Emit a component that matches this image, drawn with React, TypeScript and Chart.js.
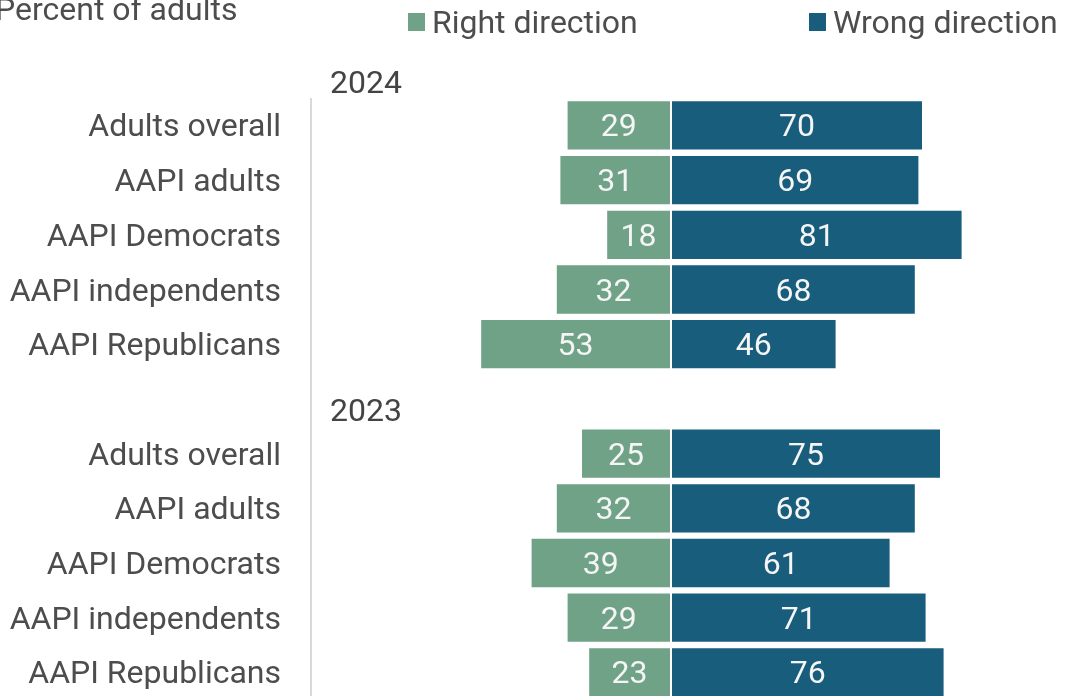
import React, { useEffect, useRef } from "react";
import { Chart, registerables } from "chart.js";

Chart.register(...registerables);

const groups = ["2024", "2023"];
const subgroups = ["Adults overall", "AAPI adults", "AAPI Democrats", "AAPI independents", "AAPI Republicans"];
const right2024 = [29, 31, 18, 32, 53];
const wrong2024 = [70, 69, 81, 68, 46];
const right2023 = [25, 32, 39, 29, 23];
const wrong2023 = [75, 68, 61, 71, 76];
const seriesNames = ["Right direction", "Wrong direction"];
const colors = ["#6fa287", "#185d7b"];
const titleText = "Percent of adults";

const FONT = "Roboto";
const TEXT = "#4d4d4d";
const SIZE = 32;

// rows: heading row, then the subgroups, for each year
const labels: string[] = [];
const rightData: (number | null)[] = [];
const wrongData: (number | null)[] = [];
const headingRows: number[] = [];
const yearData = [
  [right2024, wrong2024],
  [right2023, wrong2023],
];
groups.forEach((g, gi) => {
  headingRows.push(labels.length);
  labels.push("");
  rightData.push(null);
  wrongData.push(null);
  subgroups.forEach((s, si) => {
    labels.push(s);
    rightData.push(-yearData[gi][0][si]);
    wrongData.push(yearData[gi][1][si]);
  });
});

const decorPlugin = {
  id: "decor",
  beforeDatasetsDraw(chart: any) {
    const { ctx, chartArea, scales } = chart;
    const y = scales.y;
    const top = y.getPixelForValue(1) - (y.getPixelForValue(1) - y.getPixelForValue(0)) / 2;
    ctx.save();
    ctx.strokeStyle = "#d9d9d9";
    ctx.lineWidth = 2;
    ctx.beginPath();
    ctx.moveTo(chartArea.left, top);
    ctx.lineTo(chartArea.left, chartArea.bottom + 20);
    ctx.stroke();
    ctx.restore();
  },
  afterDatasetsDraw(chart: any) {
    const { ctx, chartArea, scales } = chart;
    const y = scales.y;
    ctx.save();
    // value labels
    ctx.font = `${SIZE}px ${FONT}`;
    ctx.fillStyle = "#f5f5f5";
    ctx.textAlign = "center";
    ctx.textBaseline = "middle";
    chart.data.datasets.forEach((ds: any, di: number) => {
      const meta = chart.getDatasetMeta(di);
      meta.data.forEach((el: any, i: number) => {
        const v = ds.data[i];
        if (v == null) return;
        const p = el.getProps(["x", "y", "base"], true);
        ctx.fillText(String(Math.abs(v)), (p.x + p.base) / 2, p.y + 3);
      });
    });
    // year headings
    ctx.fillStyle = "#444444";
    ctx.textAlign = "left";
    headingRows.forEach((r, gi) => {
      ctx.fillText(groups[gi], chartArea.left + 19, y.getPixelForValue(r) + 14);
    });
    // title
    ctx.fillStyle = TEXT;
    ctx.fillText(titleText, -5, 12);
    // legend
    const items = [
      { x: 408, label: seriesNames[0], color: colors[0] },
      { x: 809, label: seriesNames[1], color: colors[1] },
    ];
    items.forEach((it) => {
      ctx.fillStyle = it.color;
      ctx.fillRect(it.x, 13, 17, 18);
      ctx.fillStyle = TEXT;
      ctx.fillText(it.label, it.x + 24, 25);
    });
    ctx.restore();
  },
};

export default function App() {
  const ref = useRef<HTMLCanvasElement>(null);
  useEffect(() => {
    if (!ref.current) return;
    const chart = new Chart(ref.current, {
      type: "bar",
      data: {
        labels,
        datasets: [
          {
            label: seriesNames[0],
            data: rightData,
            backgroundColor: colors[0],
            borderColor: "rgba(255,255,255,0.6)",
            borderWidth: 1,
            borderSkipped: false,
            barPercentage: 0.92,
            categoryPercentage: 1,
          },
          {
            label: seriesNames[1],
            data: wrongData,
            backgroundColor: colors[1],
            borderColor: "rgba(255,255,255,0.6)",
            borderWidth: 1,
            borderSkipped: false,
            barPercentage: 0.92,
            categoryPercentage: 1,
          },
        ] as any,
      },
      options: {
        indexAxis: "y",
        responsive: false,
        animation: false,
        devicePixelRatio: 1,
        layout: { padding: { top: 43.35, bottom: 0.25, left: 0, right: 34 } },
        plugins: {
          legend: { display: false },
          title: { display: false },
          tooltip: { enabled: false },
        },
        scales: {
          x: { display: false, stacked: true, min: -100, max: 100 },
          y: {
            stacked: true,
            grid: { display: false, drawTicks: false },
            border: { display: false },
            ticks: {
              padding: 30,
              labelOffset: 3,
              color: TEXT,
              font: { family: FONT, size: SIZE },
            },
            afterFit(scale: any) {
              scale.width = 311;
              scale.paddingTop = 0;
              scale.paddingBottom = 0;
            },
          },
        },
      } as any,
      plugins: [decorPlugin],
    });
    return () => chart.destroy();
  }, []);
  return (
    <div style={{ position: "fixed", left: 0, top: 0, width: 1065, height: 696, overflow: "hidden", background: "#fff" }}>
      <canvas ref={ref} width={1065} height={700} style={{ display: "block" }} />
    </div>
  );
}
